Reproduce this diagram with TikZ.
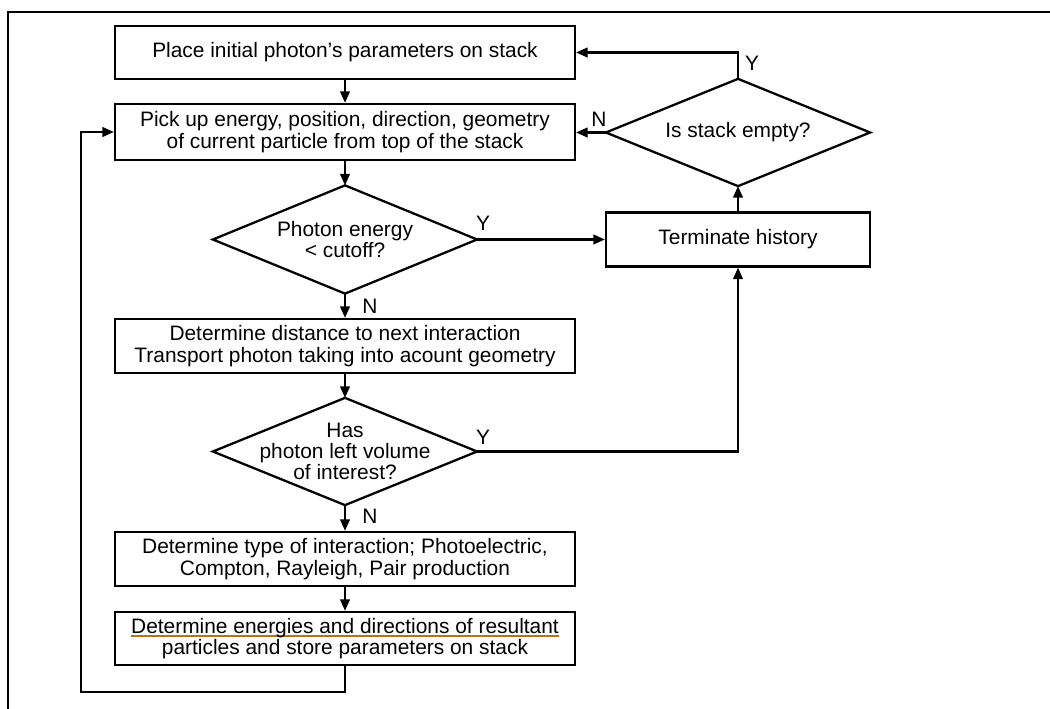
\documentclass[tikz,border=0pt]{standalone}
\usepackage{fontspec}
\setmainfont{Liberation Sans}
\usetikzlibrary{arrows.meta}
\usepackage{xcolor}
\definecolor{ulgold}{RGB}{176,120,20}
\newsavebox{\ulbox}
\newcommand{\spellul}[1]{\sbox{\ulbox}{#1}\rlap{\textcolor{ulgold}{\rule[-0.3ex]{\wd\ulbox}{1.1pt}}}\usebox{\ulbox}}

\begin{document}
\begin{tikzpicture}[x=0.02cm,y=-0.02cm,>={Triangle[length=6.5pt,width=5.4pt]},
  font=\fontsize{11.9}{12.1}\selectfont,line width=1.3pt,
  procbox/.style={draw,rectangle,inner sep=0pt,align=center,minimum width=9.2cm,minimum height=1.08cm},
  decision/.style={rectangle,inner sep=0pt,align=center,minimum width=5.24cm,minimum height=2.12cm},
  branch/.style={inner sep=0pt}]
\useasboundingbox (0,0) rectangle (1050,709);
\draw[line width=1.5pt] (8,709) -- (8,12) -- (1050,12);
% main column
\node[procbox,minimum height=1.06cm] (place) at (345,52.5) {Place initial photon's parameters on stack};
\node[procbox,minimum height=1.12cm] (pick) at (345,132) {Pick up energy, position, direction, geometry\\of current particle from top of the stack};
\node[decision,minimum height=2.12cm] (cutoff) at (345,239.5) {Photon energy\\< cutoff?};
\node[procbox] (dist) at (345,346) {Determine distance to next interaction\\Transport photon taking into acount geometry};
\node[decision,minimum height=2.1cm] (left) at (345,451.5) {Has\\photon left volume\\of interest?};
\node[procbox] (type) at (345,559) {Determine type of interaction; Photoelectric,\\Compton, Rayleigh, Pair production};
\node[procbox,minimum height=1.06cm] (energ) at (345,638.5) {\spellul{Determine energies and directions of resultant}\\particles and store parameters on stack};
% right column
\node[procbox,minimum width=5.28cm] (term) at (738,239.5) {Terminate history};
\node[decision,minimum height=2.1cm] (empty) at (738,132.5) {Is stack empty?};
\foreach \d in {cutoff,left,empty}
  \draw (\d.north) -- (\d.east) -- (\d.south) -- (\d.west) -- cycle;
\coordinate (ret) at (81,692);
% connectors
\draw[->] (place.south) -- (pick.north);
\draw[->] (pick.south) -- (cutoff.north);
\draw[->] (cutoff.south) -- (dist.north);
\draw[->] (dist.south) -- (left.north);
\draw[->] (left.south) -- (type.north);
\draw[->] (type.south) -- (energ.north);
\draw[->] (energ.south) |- (ret) |- (pick.west);
\draw[->] (cutoff.east) -- (term.west);
\draw[->] (left.east) -| (term.south);
\draw[->] (term.north) -- (empty.south);
\draw[->] (empty.west) -- (empty.west -| pick.east);
\draw[->] (empty.north) |- (place.east);
% branch labels
\node[branch] (cutY) at (483,223) {Y};
\node[branch] (cutN) at (370,306) {N};
\node[branch] (leftY) at (483,437) {Y};
\node[branch] (leftN) at (370,516) {N};
\node[branch] (emptyY) at (752,63) {Y};
\node[branch] (emptyN) at (599,119) {N};
\end{tikzpicture}
\end{document}
